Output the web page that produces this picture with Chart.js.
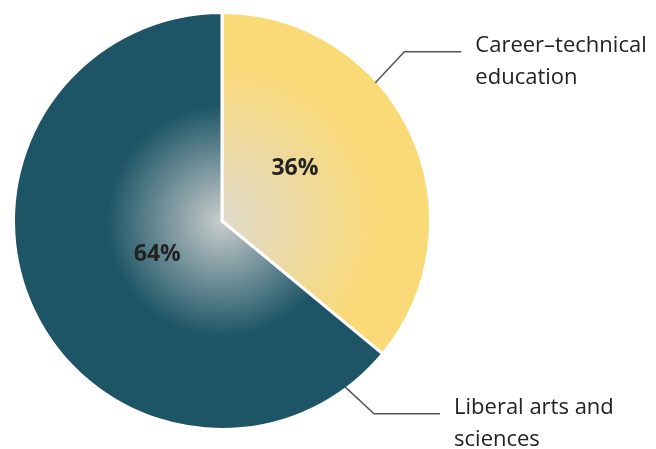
<!DOCTYPE html>
<html>
<head>
<meta charset="utf-8">
<script src="https://cdn.jsdelivr.net/npm/chart.js@4"></script>
<style>
  html, body { margin: 0; padding: 0; background: #fff; }
  #wrap { width: 656px; height: 449px; }
</style>
</head>
<body>
<div id="wrap"><canvas id="chart" width="656" height="449"></canvas></div>
<script>
// data
const categories = ['Career\u2013technical education', 'Liberal arts and sciences'];
const shares = [36, 64];
const labelLines = [['Career\u2013technical', 'education'], ['Liberal arts and', 'sciences']];

const colors = ['#fad977', '#1d5566'];
const centerColors = ['#e0dacb', '#c9cdcd'];

// where along each slice the leader starts (fraction of slice sweep), and where the text goes
const leaderAt = [0.37, 0.06];
const pctRadius = [0.43, 0.35];
const pctAt = [0.42, 0.49];

function sliceFill(ctx) {
  const chart = ctx.chart;
  const area = chart.chartArea;
  if (!area) return colors[ctx.dataIndex];
  const cx = (area.left + area.right) / 2, cy = (area.top + area.bottom) / 2;
  const r = Math.min(area.right - area.left, area.bottom - area.top) / 2;
  const g = chart.ctx.createRadialGradient(cx, cy, 0, cx, cy, r);
  g.addColorStop(0, centerColors[ctx.dataIndex]);
  if (ctx.dataIndex == 1) {
    g.addColorStop(0.55, colors[1]);
  } else {
    g.addColorStop(0.75, colors[0]);
  }
  g.addColorStop(1, colors[ctx.dataIndex]);
  return g;
}

const labelPlugin = {
  id: 'sliceLabels',
  afterDatasetsDraw(chart) {
    const c = chart.ctx;
    const arcs = chart.getDatasetMeta(0).data;
    arcs.forEach((arc, i) => {
      const p = arc.getProps(['x', 'y', 'startAngle', 'endAngle', 'outerRadius']);
      // percent label
      const a1 = p.startAngle + (p.endAngle - p.startAngle) * pctAt[i];
      c.save();
      c.font = 'bold 23px "Open Sans"';
      c.fillStyle = '#222';
      c.textAlign = 'center';
      c.textBaseline = 'middle';
      c.fillText(shares[i] + '%', p.x + Math.cos(a1) * p.outerRadius * pctRadius[i], p.y + Math.sin(a1) * p.outerRadius * pctRadius[i]);
      // leader line
      const a2 = p.startAngle + (p.endAngle - p.startAngle) * leaderAt[i];
      const sx = p.x + Math.cos(a2) * (p.outerRadius - 2);
      const sy = p.y + Math.sin(a2) * (p.outerRadius - 2);
      const dy = i == 0 ? -31 : 27;
      const ex = sx + Math.abs(dy) - (i == 0 ? 2 : -2);
      const ey = sy + dy;
      const run = i == 0 ? 57 : 66;
      c.strokeStyle = '#555';
      c.lineWidth = 1.5;
      c.beginPath();
      c.moveTo(sx, sy);
      c.lineTo(ex, ey);
      c.lineTo(ex + run, ey);
      c.stroke();
      c.font = '22px "Open Sans"';
      c.fillStyle = '#222';
      c.textAlign = 'left';
      const lines = labelLines[i];
      const top = ey - 6;
      lines.forEach((t, k) => c.fillText(t, ex + run + 14, top + k * 32));
      c.restore();
    });
  }
};

new Chart(document.getElementById('chart'), {
  type: 'pie',
  data: {
    labels: categories,
    datasets: [{
      data: shares,
      backgroundColor: sliceFill,
      borderColor: '#fff',
      borderWidth: 3
    }]
  },
  options: {
    responsive: false,
    animation: false,
    layout: { padding: { left: 12, top: 11, right: 224, bottom: 18 } },
    plugins: {
      legend: { display: false },
      tooltip: { enabled: false }
    }
  },
  plugins: [labelPlugin]
});
</script>
</body>
</html>
